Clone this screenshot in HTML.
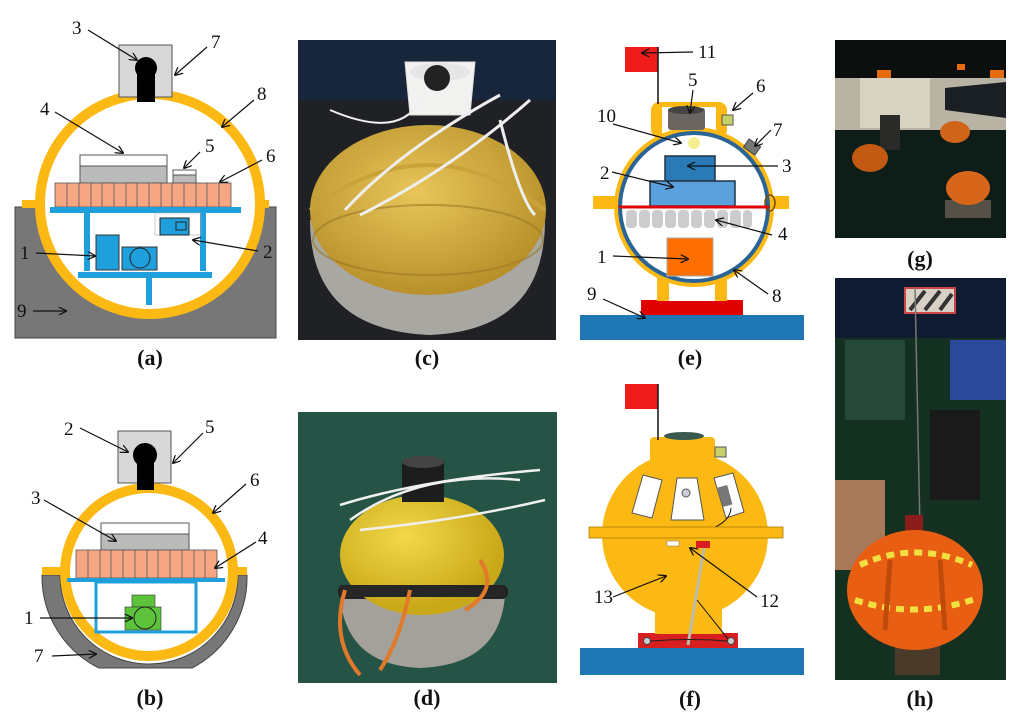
<!DOCTYPE html>
<html><head><meta charset="utf-8"><style>
html,body{margin:0;padding:0;background:#fff;}
svg{display:block;font-family:"Liberation Serif",serif;}
.n{font-size:19px;fill:#111;}
.c{font-size:22px;font-weight:bold;fill:#111;text-anchor:middle;}
.a{stroke:#111;stroke-width:1.2;fill:none;marker-end:url(#ar);}
</style></head><body>
<svg width="1024" height="726" viewBox="0 0 1024 726" xmlns="http://www.w3.org/2000/svg">
<defs>
<marker id="ar" viewBox="0 0 10 10" refX="9" refY="5" markerWidth="7" markerHeight="7" orient="auto"><path d="M0,0 L10,5 L0,10" fill="none" stroke="#111" stroke-width="1.5"/></marker>
<radialGradient id="yel" cx="0.45" cy="0.4" r="0.6"><stop offset="0" stop-color="#e8c65a"/><stop offset="1" stop-color="#b8902a"/></radialGradient>
<radialGradient id="yel2" cx="0.4" cy="0.35" r="0.6"><stop offset="0" stop-color="#f2d84a"/><stop offset="1" stop-color="#c9a818"/></radialGradient>
</defs>

<!-- (a) -->
<rect x="15" y="207" width="261" height="131" fill="#777" stroke="#444"/>
<rect x="22" y="200" width="247" height="8" fill="#fdb913"/>
<circle cx="150" cy="204" r="110" fill="#fff" stroke="#fdb913" stroke-width="10"/>
<rect x="119" y="45" width="53" height="52" fill="#d8d8d8" stroke="#555"/>
<rect x="137" y="72" width="18" height="30" fill="#000"/>
<circle cx="146" cy="68" r="11" fill="#000"/>
<rect x="80" y="155" width="87" height="11" fill="#fff" stroke="#555"/>
<rect x="80" y="166" width="87" height="17" fill="#bbb" stroke="#555"/>
<rect x="173" y="170" width="23" height="5" fill="#fff" stroke="#555"/>
<rect x="173" y="175" width="23" height="8" fill="#bbb" stroke="#555"/>
<g fill="#f6a682" stroke="#555" stroke-width="0.8">
<rect x="55" y="183" width="176" height="24"/>
</g>
<g stroke="#555" stroke-width="0.8">
<line x1="67" y1="183" x2="67" y2="207"/><line x1="79" y1="183" x2="79" y2="207"/><line x1="91" y1="183" x2="91" y2="207"/><line x1="102" y1="183" x2="102" y2="207"/><line x1="114" y1="183" x2="114" y2="207"/><line x1="126" y1="183" x2="126" y2="207"/><line x1="137" y1="183" x2="137" y2="207"/><line x1="149" y1="183" x2="149" y2="207"/><line x1="161" y1="183" x2="161" y2="207"/><line x1="172" y1="183" x2="172" y2="207"/><line x1="184" y1="183" x2="184" y2="207"/><line x1="196" y1="183" x2="196" y2="207"/><line x1="207" y1="183" x2="207" y2="207"/><line x1="219" y1="183" x2="219" y2="207"/>
</g>
<g fill="#1fa0dc">
<rect x="50" y="207" width="191" height="6"/><rect x="84" y="213" width="6" height="58"/><rect x="200" y="213" width="6" height="58"/>
<rect x="78" y="272" width="134" height="6"/><rect x="146" y="278" width="6" height="27"/>
</g>
<rect x="96" y="235" width="23" height="35" fill="#1fa0dc" stroke="#333"/>
<rect x="122" y="247" width="35" height="23" fill="#1fa0dc" stroke="#333"/>
<circle cx="140" cy="258" r="10" fill="none" stroke="#222"/>
<rect x="155" y="213" width="46" height="22" fill="none" stroke="#aaa" stroke-width="0.6"/>
<rect x="160" y="218" width="29" height="17" fill="#1fa0dc" stroke="#222"/>
<rect x="176" y="222" width="10" height="8" fill="none" stroke="#222"/>
<text class="n" x="72" y="34">3</text><line class="a" x1="88" y1="30" x2="137" y2="60"/>
<text class="n" x="211" y="48">7</text><line class="a" x1="207" y1="47" x2="175" y2="75"/>
<text class="n" x="257" y="100">8</text><line class="a" x1="254" y1="100" x2="222" y2="127"/>
<text class="n" x="40" y="115">4</text><line class="a" x1="55" y1="112" x2="123" y2="153"/>
<text class="n" x="205" y="152">5</text><line class="a" x1="200" y1="152" x2="184" y2="168"/>
<text class="n" x="266" y="162">6</text><line class="a" x1="262" y1="160" x2="220" y2="182"/>
<text class="n" x="20" y="259">1</text><line class="a" x1="36" y1="253" x2="95" y2="256"/>
<text class="n" x="263" y="258">2</text><line class="a" x1="258" y1="251" x2="193" y2="240"/>
<text class="n" x="17" y="317">9</text><line class="a" x1="33" y1="311" x2="66" y2="311"/>
<text class="c" x="150" y="365">(a)</text>

<!-- (b) -->
<path d="M42,575 L60,575 A89,89 0 0 0 238,575 L247,575 A102,102 0 0 1 192,668 L99,668 A102,102 0 0 1 42,575 Z" fill="#777" stroke="#444"/>
<rect x="42" y="567" width="205" height="8" fill="#fdb913"/>
<circle cx="149" cy="572" r="84" fill="#fff" stroke="#fdb913" stroke-width="10"/>
<rect x="118" y="431" width="53" height="52" fill="#d8d8d8" stroke="#555"/>
<rect x="137" y="458" width="17" height="32" fill="#000"/>
<circle cx="145" cy="455" r="12" fill="#000"/>
<rect x="101" y="523" width="88" height="11" fill="#fff" stroke="#555"/>
<rect x="101" y="534" width="88" height="16" fill="#bbb" stroke="#555"/>
<rect x="76" y="550" width="141" height="28" fill="#f6a682" stroke="#555" stroke-width="0.8"/>
<g stroke="#555" stroke-width="0.8">
<line x1="88" y1="550" x2="88" y2="578"/><line x1="100" y1="550" x2="100" y2="578"/><line x1="111" y1="550" x2="111" y2="578"/><line x1="123" y1="550" x2="123" y2="578"/><line x1="135" y1="550" x2="135" y2="578"/><line x1="147" y1="550" x2="147" y2="578"/><line x1="158" y1="550" x2="158" y2="578"/><line x1="170" y1="550" x2="170" y2="578"/><line x1="182" y1="550" x2="182" y2="578"/><line x1="194" y1="550" x2="194" y2="578"/><line x1="205" y1="550" x2="205" y2="578"/>
</g>
<rect x="67" y="578" width="158" height="4" fill="#1fa0dc"/>
<rect x="96" y="582" width="100" height="50" fill="none" stroke="#1fa0dc" stroke-width="3"/>
<rect x="132" y="595" width="23" height="12" fill="#5cc33a" stroke="#333" stroke-width="0.6"/>
<rect x="125" y="607" width="36" height="23" fill="#5cc33a" stroke="#333" stroke-width="0.6"/>
<circle cx="145" cy="618" r="11" fill="#5cc33a" stroke="#222"/>
<text class="n" x="64" y="435">2</text><line class="a" x1="80" y1="428" x2="128" y2="452"/>
<text class="n" x="205" y="433">5</text><line class="a" x1="203" y1="433" x2="173" y2="463"/>
<text class="n" x="250" y="486">6</text><line class="a" x1="246" y1="484" x2="213" y2="513"/>
<text class="n" x="31" y="504">3</text><line class="a" x1="44" y1="500" x2="116" y2="541"/>
<text class="n" x="258" y="544">4</text><line class="a" x1="256" y1="542" x2="215" y2="568"/>
<text class="n" x="24" y="624">1</text><line class="a" x1="40" y1="618" x2="132" y2="618"/>
<text class="n" x="34" y="662">7</text><line class="a" x1="52" y1="656" x2="96" y2="654"/>
<text class="c" x="150" y="705">(b)</text>

<!-- (c) photo -->
<rect x="298" y="40" width="258" height="300" fill="#1f2124"/>
<rect x="298" y="40" width="258" height="60" fill="#17263a"/>
<path d="M310,220 Q310,330 430,335 Q545,330 545,220 Z" fill="#a9a7a1"/>
<ellipse cx="428" cy="210" rx="118" ry="85" fill="url(#yel)"/>
<path d="M310,210 Q428,120 545,210" fill="none" stroke="#caa23a" stroke-width="4"/>
<ellipse cx="428" cy="240" rx="115" ry="35" fill="none" stroke="#9a7a25" stroke-width="2" opacity="0.6"/>
<path d="M405,62 L475,62 L470,115 L410,115 Z" fill="#f2f2f0" stroke="#ddd"/>
<ellipse cx="440" cy="72" rx="30" ry="9" fill="#e6e6e6"/>
<circle cx="437" cy="78" r="13" fill="#222"/>
<path d="M345,210 Q400,150 500,95 M360,215 Q450,170 530,100 M500,120 Q520,200 535,215" stroke="#eee" stroke-width="3" fill="none"/>
<path d="M330,110 Q400,140 420,100" stroke="#eee" stroke-width="2" fill="none"/>
<text class="c" x="427" y="365">(c)</text>

<!-- (d) photo -->
<rect x="298" y="412" width="259" height="271" fill="#1f4a3e"/>
<rect x="298" y="412" width="259" height="271" fill="#2b5b4c" opacity="0.5"/>
<path d="M340,595 Q345,665 420,668 Q500,665 505,595 Z" fill="#a3a19a"/>
<rect x="338" y="585" width="170" height="14" rx="6" fill="#222"/>
<ellipse cx="422" cy="555" rx="82" ry="60" fill="url(#yel2)"/>
<rect x="340" y="585" width="165" height="12" fill="#262626"/>
<rect x="402" y="462" width="42" height="40" fill="#1d1d1d"/>
<ellipse cx="423" cy="462" rx="21" ry="6" fill="#444"/>
<path d="M350,520 Q420,470 520,480 M340,505 Q420,480 540,470 M360,530 Q460,520 545,500" stroke="#f0f0f0" stroke-width="2.5" fill="none"/>
<path d="M345,590 Q330,640 360,675 M410,590 Q400,640 380,670 M480,560 Q500,590 465,610" stroke="#e07a2a" stroke-width="4" fill="none"/>
<text class="c" x="427" y="705">(d)</text>

<!-- (e) -->
<rect x="580" y="315" width="224" height="25" fill="#1f78b4"/>
<rect x="641" y="300" width="102" height="15" fill="#e00000"/>
<rect x="657" y="265" width="70" height="36" fill="#fdb913"/>
<rect x="669" y="270" width="46" height="31" fill="#fff"/>
<rect x="593" y="196" width="196" height="13" fill="#fdb913"/>
<rect x="651" y="102" width="76" height="36" rx="8" fill="#fdb913"/>
<rect x="662" y="107" width="54" height="26" fill="#fff"/>
<circle cx="694" cy="207" r="80" fill="#fdb913"/>
<circle cx="694" cy="207" r="74" fill="#fff" stroke="#2a6496" stroke-width="4"/>
<rect x="625" y="47" width="33" height="25" fill="#ef1c1c"/>
<line x1="658" y1="47" x2="658" y2="104" stroke="#111" stroke-width="1.5"/>
<rect x="668" y="108" width="37" height="22" fill="#6a6560" rx="3"/>
<ellipse cx="686" cy="110" rx="18" ry="4" fill="#444"/>
<circle cx="694" cy="143" r="6" fill="#f4f090"/>
<rect x="722" y="115" width="11" height="10" fill="#c8d06a" stroke="#555"/>
<rect x="745" y="142" width="14" height="10" fill="#777" stroke="#444" transform="rotate(35 752 147)"/>
<ellipse cx="770" cy="203" rx="5" ry="8" fill="none" stroke="#7a4a00" stroke-width="1.5"/>
<rect x="665" y="156" width="50" height="25" fill="#2a7ab8" stroke="#234" stroke-width="1.5"/>
<rect x="650" y="181" width="85" height="25" fill="#5aa0dc" stroke="#234" stroke-width="1.5"/>
<line x1="619" y1="207" x2="769" y2="207" stroke="#e00000" stroke-width="3"/>
<g fill="#ccc">
<rect x="626" y="210" width="11" height="18" rx="4"/><rect x="639" y="210" width="11" height="18" rx="4"/><rect x="652" y="210" width="11" height="18" rx="4"/><rect x="665" y="210" width="11" height="18" rx="4"/><rect x="678" y="210" width="11" height="18" rx="4"/><rect x="691" y="210" width="11" height="18" rx="4"/><rect x="704" y="210" width="11" height="18" rx="4"/><rect x="717" y="210" width="11" height="18" rx="4"/><rect x="730" y="210" width="11" height="18" rx="4"/><rect x="743" y="210" width="9" height="18" rx="4"/>
</g>
<rect x="667" y="238" width="46" height="38" fill="#ff6f00" stroke="#aaa"/>
<text class="n" x="698" y="58">11</text><line class="a" x1="693" y1="52" x2="642" y2="53"/>
<text class="n" x="688" y="86">5</text><line class="a" x1="693" y1="90" x2="690" y2="113"/>
<text class="n" x="756" y="92">6</text><line class="a" x1="753" y1="93" x2="733" y2="110"/>
<text class="n" x="597" y="122">10</text><line class="a" x1="613" y1="124" x2="681" y2="143"/>
<text class="n" x="773" y="136">7</text><line class="a" x1="771" y1="130" x2="755" y2="146"/>
<text class="n" x="600" y="179">2</text><line class="a" x1="612" y1="172" x2="673" y2="187"/>
<text class="n" x="782" y="172">3</text><line class="a" x1="778" y1="166" x2="688" y2="166"/>
<text class="n" x="778" y="240">4</text><line class="a" x1="772" y1="235" x2="716" y2="220"/>
<text class="n" x="597" y="263">1</text><line class="a" x1="613" y1="256" x2="688" y2="259"/>
<text class="n" x="772" y="302">8</text><line class="a" x1="768" y1="294" x2="734" y2="270"/>
<text class="n" x="587" y="300">9</text><line class="a" x1="603" y1="299" x2="645" y2="318"/>
<text class="c" x="690" y="365">(e)</text>

<!-- (f) -->
<rect x="580" y="648" width="224" height="27" fill="#1f78b4"/>
<rect x="638" y="633" width="100" height="15" fill="#d81e1e"/>
<rect x="655" y="590" width="67" height="44" fill="#fdb913"/>
<circle cx="685" cy="535" r="83" fill="#fdb913"/>
<rect x="650" y="437" width="65" height="40" rx="4" fill="#fdb913"/>
<ellipse cx="684" cy="436" rx="20" ry="4" fill="#3a5a50"/>
<rect x="715" y="447" width="11" height="10" fill="#c8d06a" stroke="#555"/>
<rect x="625" y="384" width="33" height="25" fill="#ef1c1c"/>
<line x1="658" y1="384" x2="658" y2="440" stroke="#111" stroke-width="1.5"/>
<path d="M643,475 L662,480 L652,518 L632,513 Z" fill="#fff" stroke="#555"/>
<path d="M677,478 L697,478 L704,520 L671,520 Z" fill="#fff" stroke="#555"/>
<circle cx="686" cy="493" r="4" fill="#ccd" stroke="#555"/>
<path d="M714,478 L733,473 L744,512 L726,518 Z" fill="#fff" stroke="#555"/>
<rect x="720" y="486" width="10" height="20" fill="#777" transform="rotate(-15 725 496)"/>
<path d="M731,508 Q730,525 700,532" stroke="#111" fill="none"/>
<rect x="589" y="527" width="194" height="11" fill="#fdb913" stroke="#a87a00" stroke-width="0.8"/>
<rect x="667" y="541" width="12" height="5" fill="#fff" stroke="#777" stroke-width="0.5"/>
<rect x="696" y="541" width="14" height="7" fill="#d81e1e"/>
<line x1="704" y1="548" x2="688" y2="645" stroke="#bba" stroke-width="3"/>
<circle cx="647" cy="641" r="3.5" fill="#ccc" stroke="#444"/>
<circle cx="731" cy="641" r="3.5" fill="#ccc" stroke="#444"/>
<path d="M650,641 Q690,638 728,641" stroke="#222" fill="none"/>
<text class="n" x="594" y="603">13</text><line class="a" x1="613" y1="597" x2="666" y2="576"/>
<text class="n" x="760" y="607">12</text><line class="a" x1="757" y1="597" x2="690" y2="548"/>
<line x1="697" y1="600" x2="728" y2="639" stroke="#111" stroke-width="1"/>
<text class="c" x="690" y="706">(f)</text>

<!-- (g) photo -->
<rect x="835" y="40" width="171" height="198" fill="#0a0e0c"/>
<rect x="835" y="78" width="171" height="55" fill="#b9b3a4"/>
<rect x="860" y="78" width="70" height="50" fill="#d8d2c2"/>
<path d="M945,88 L1006,82 L1006,118 L945,110 Z" fill="#1a1f24"/>
<rect x="835" y="130" width="171" height="108" fill="#0f1d18"/>
<rect x="877" y="70" width="14" height="8" fill="#e66a10"/>
<rect x="990" y="70" width="14" height="8" fill="#e66a10"/>
<rect x="957" y="64" width="8" height="6" fill="#e66a10"/>
<rect x="880" y="115" width="20" height="35" fill="#2a2a28"/>
<ellipse cx="870" cy="158" rx="18" ry="14" fill="#c25a14"/>
<ellipse cx="955" cy="132" rx="15" ry="11" fill="#d06418"/>
<rect x="945" y="200" width="46" height="18" fill="#555048"/>
<ellipse cx="968" cy="188" rx="22" ry="17" fill="#d8661a"/>
<text class="c" x="920" y="266">(g)</text>

<!-- (h) photo -->
<rect x="835" y="278" width="171" height="402" fill="#143020"/>
<rect x="835" y="278" width="171" height="60" fill="#101a30"/>
<rect x="845" y="340" width="60" height="80" fill="#26483a"/>
<rect x="950" y="340" width="56" height="60" fill="#2d4a9a"/>
<rect x="930" y="410" width="50" height="90" fill="#1a1a1a"/>
<rect x="835" y="480" width="50" height="90" fill="#a87a5a"/>
<rect x="905" y="288" width="50" height="25" fill="#d8d0c4" stroke="#c44" stroke-width="2"/>
<path d="M910,310 L925,291 M925,310 L940,291 M940,310 L952,294" stroke="#333" stroke-width="4"/>
<line x1="915" y1="288" x2="920" y2="530" stroke="#777" stroke-width="1.5"/>
<rect x="905" y="515" width="18" height="25" fill="#8a1c1c"/>
<rect x="895" y="640" width="45" height="35" fill="#4a3a2a"/>
<ellipse cx="915" cy="590" rx="68" ry="60" fill="#e85e12"/>
<path d="M860,565 Q915,540 972,565 M855,600 Q915,620 978,598" stroke="#f2e040" stroke-width="6" fill="none" stroke-dasharray="8 6"/>
<path d="M890,560 L885,630 M940,560 L945,630" stroke="#c04a0a" stroke-width="5"/>
<text class="c" x="920" y="706">(h)</text>
</svg>
</body></html>
